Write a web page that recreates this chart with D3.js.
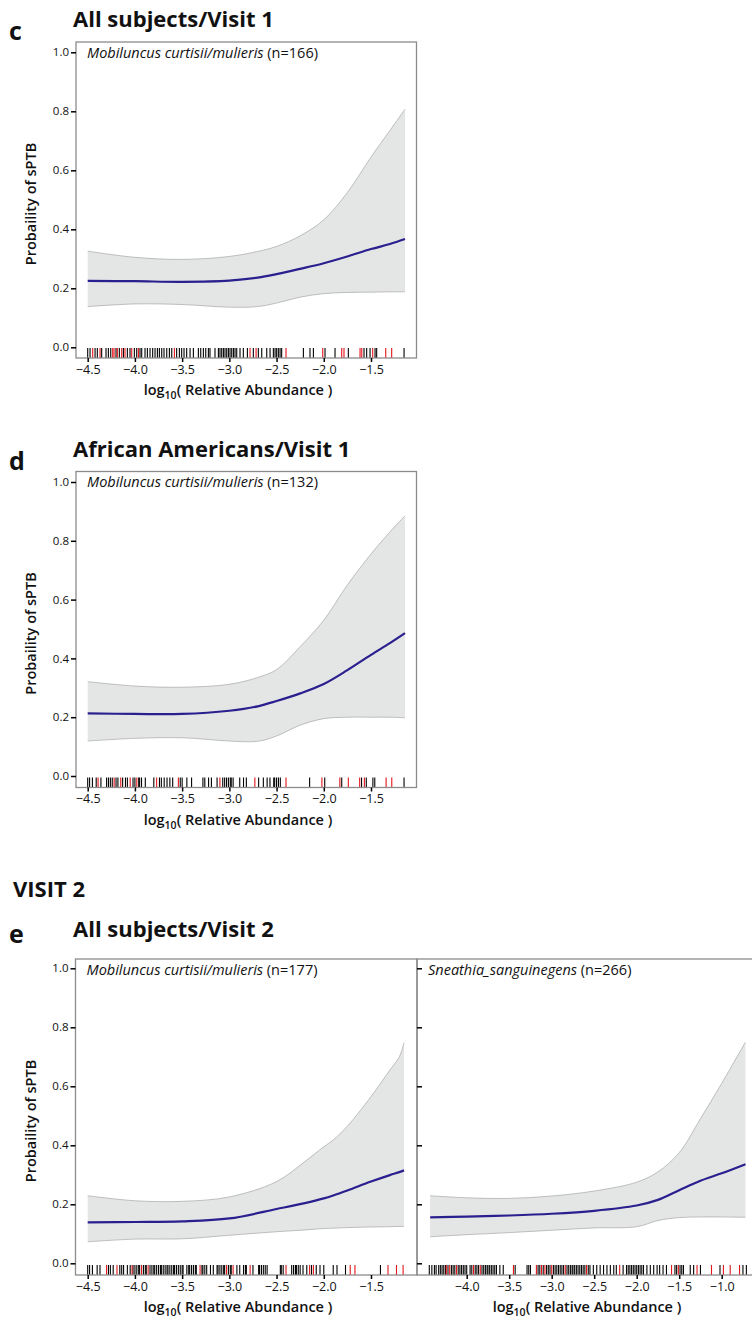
<!DOCTYPE html>
<html>
<head>
<meta charset="utf-8">
<script src="https://cdn.jsdelivr.net/npm/d3@7"></script>
<style>
  body { margin: 0; background: #fff; }
  svg { display: block; }
  text { font-family: "Open Sans", "Noto Sans", sans-serif; fill: #111; }
</style>
</head>
<body>
<svg id="chart" width="752" height="1319"></svg>
<script>
// ---- Shared tick labels ----
const yTicks = [0, 0.2, 0.4, 0.6, 0.8, 1.0];
const xTicksMob = [-4.5, -4.0, -3.5, -3.0, -2.5, -2.0, -1.5];
const xTicksSne = [-4.0, -3.5, -3.0, -2.5, -2.0, -1.5, -1.0];

// ---- Panel c: all subjects, visit 1, Mobiluncus ----
const cGrid  = [-4.5, -4.0, -3.5, -3.0, -2.7, -2.5, -2.25, -2.0, -1.75, -1.5, -1.3, -1.14];
const cFit   = [0.225, 0.224, 0.222, 0.226, 0.236, 0.248, 0.266, 0.285, 0.308, 0.333, 0.350, 0.367];
const cLower = [0.138, 0.147, 0.145, 0.136, 0.138, 0.150, 0.170, 0.182, 0.186, 0.187, 0.188, 0.188];
const cUpper = [0.326, 0.305, 0.298, 0.308, 0.325, 0.342, 0.378, 0.432, 0.525, 0.645, 0.735, 0.807];
const cRugControl = [-4.50, -4.475, -4.422, -4.398, -4.352, -4.306, -4.281, -4.256, -4.20, -4.165, -4.122,
  -4.08, -4.052, -4.006, -3.981, -3.946, -3.928, -3.893, -3.868, -3.84, -3.812, -3.787, -3.762, -3.741,
  -3.716, -3.692, -3.663, -3.635, -3.61, -3.558, -3.529, -3.505, -3.48, -3.452, -3.416, -3.381, -3.328,
  -3.303, -3.275, -3.25, -3.222, -3.205, -3.152, -3.116, -3.099, -3.081, -3.063, -3.046, -3.028, -3.01,
  -2.993, -2.975, -2.957, -2.94, -2.922, -2.887, -2.852, -2.809, -2.746, -2.693, -2.657, -2.604, -2.569,
  -2.534, -2.516, -2.499, -2.481, -2.463, -2.446, -2.216, -2.146, -2.11, -1.987, -1.881, -1.74, -1.574,
  -1.546, -1.51, -1.457, -1.44, -1.15];
const cRugCase = [-4.447, -4.369, -4.235, -4.221, -4.186, -4.14, -4.105, -4.034, -3.963, -3.582, -2.781,
  -2.717, -2.40, -2.011, -1.81, -1.786, -1.616, -1.598, -1.482, -1.344, -1.281];

// ---- Panel d: African Americans, visit 1, Mobiluncus ----
const dGrid  = [-4.5, -4.0, -3.5, -3.0, -2.7, -2.5, -2.25, -2.0, -1.75, -1.5, -1.3, -1.14];
const dFit   = [0.213, 0.211, 0.211, 0.222, 0.237, 0.255, 0.281, 0.313, 0.360, 0.412, 0.452, 0.486];
const dLower = [0.119, 0.128, 0.130, 0.119, 0.118, 0.136, 0.173, 0.195, 0.200, 0.200, 0.200, 0.198];
const dUpper = [0.321, 0.306, 0.302, 0.312, 0.335, 0.362, 0.440, 0.530, 0.650, 0.755, 0.830, 0.885];
const dRugControl = [-4.50, -4.48, -4.45, -4.41, -4.36, -4.30, -4.28, -4.26, -4.24, -4.20, -4.18, -4.13,
  -4.10, -4.08, -4.02, -4.00, -3.96, -3.95, -3.93, -3.89, -3.80, -3.74, -3.72, -3.69, -3.66, -3.63, -3.60,
  -3.52, -3.50, -3.45, -3.40, -3.28, -3.26, -3.22, -3.19, -3.13, -3.07, -3.05, -3.03, -3.01, -2.99, -2.98,
  -2.96, -2.89, -2.85, -2.82, -2.69, -2.64, -2.60, -2.57, -2.53, -2.52, -2.50, -2.48, -2.46, -2.15, -1.99,
  -1.81, -1.60, -1.55, -1.48, -1.46, -1.15];
const dRugCase = [-4.39, -4.22, -4.15, -4.05, -3.98, -3.77, -3.54, -3.10, -2.73, -2.40, -2.02, -1.83,
  -1.74, -1.62, -1.57, -1.34, -1.28];

// ---- Panel e (left): all subjects, visit 2, Mobiluncus ----
const eGrid  = [-4.5, -4.0, -3.5, -3.0, -2.5, -2.2, -2.0, -1.9, -1.75, -1.5, -1.3, -1.2, -1.15];
const eFit   = [0.139, 0.140, 0.142, 0.152, 0.184, 0.204, 0.220, 0.230, 0.247, 0.277, 0.299, 0.309, 0.315];
const eLower = [0.073, 0.082, 0.083, 0.095, 0.107, 0.113, 0.118, 0.119, 0.121, 0.123, 0.124, 0.125, 0.125];
const eUpper = [0.229, 0.212, 0.210, 0.225, 0.277, 0.345, 0.395, 0.418, 0.465, 0.565, 0.655, 0.700, 0.748];
const eRugControl = [-4.50, -4.48, -4.45, -4.40, -4.37, -4.28, -4.26, -4.23, -4.16, -4.14, -4.12, -4.08,
  -4.05, -4.02, -4.00, -3.98, -3.96, -3.95, -3.91, -3.89, -3.88, -3.84, -3.82, -3.80, -3.79, -3.77, -3.75,
  -3.73, -3.72, -3.70, -3.68, -3.66, -3.65, -3.63, -3.61, -3.59, -3.58, -3.56, -3.54, -3.52, -3.50, -3.49,
  -3.45, -3.43, -3.42, -3.40, -3.38, -3.36, -3.35, -3.29, -3.28, -3.26, -3.24, -3.20, -3.17, -3.13, -3.12,
  -3.10, -3.08, -3.06, -3.05, -3.01, -2.99, -2.98, -2.92, -2.89, -2.85, -2.83, -2.82, -2.75, -2.69, -2.68,
  -2.66, -2.64, -2.62, -2.60, -2.46, -2.45, -2.43, -2.34, -2.32, -2.30, -2.29, -2.27, -2.25, -2.22, -2.18,
  -2.13, -2.08, -2.04, -2.00, -1.90, -1.86, -1.77, -1.40];
const eRugCase = [-4.30, -4.19, -4.03, -3.93, -3.86, -3.31, -3.03, -2.96, -2.78, -2.40, -2.15, -2.11,
  -1.72, -1.67, -1.32, -1.23, -1.16];

// ---- Panel e (right): all subjects, visit 2, Sneathia ----
const sGrid  = [-4.43, -4.0, -3.5, -3.0, -2.5, -2.0, -1.75, -1.5, -1.25, -1.0, -0.72];
const sFit   = [0.156, 0.158, 0.162, 0.168, 0.178, 0.196, 0.215, 0.248, 0.280, 0.305, 0.336];
const sLower = [0.090, 0.097, 0.104, 0.112, 0.120, 0.124, 0.145, 0.155, 0.157, 0.157, 0.156];
const sUpper = [0.229, 0.222, 0.220, 0.228, 0.245, 0.275, 0.310, 0.375, 0.490, 0.610, 0.750];
const sRugControl = [-4.44, -4.41, -4.38, -4.36, -4.33, -4.31, -4.29, -4.27, -4.25, -4.22, -4.18, -4.16,
  -4.14, -4.10, -4.08, -4.06, -4.04, -4.02, -4.00, -3.96, -3.94, -3.90, -3.88, -3.86, -3.82, -3.80, -3.78,
  -3.76, -3.75, -3.73, -3.71, -3.69, -3.67, -3.65, -3.61, -3.57, -3.43, -3.29, -3.27, -3.25, -3.16, -3.14,
  -3.10, -3.06, -3.04, -3.02, -2.98, -2.96, -2.94, -2.92, -2.90, -2.88, -2.86, -2.82, -2.80, -2.78, -2.76,
  -2.75, -2.73, -2.71, -2.69, -2.67, -2.65, -2.63, -2.61, -2.57, -2.55, -2.51, -2.47, -2.43, -2.39, -2.35,
  -2.31, -2.27, -2.24, -2.16, -2.12, -2.10, -2.08, -2.06, -2.04, -2.02, -2.00, -1.98, -1.96, -1.94, -1.92,
  -1.88, -1.84, -1.80, -1.76, -1.73, -1.69, -1.65, -1.55, -1.53, -1.49, -1.47, -1.45, -1.37, -1.33, -1.25,
  -1.02, -0.75, -0.71];
const sRugCase = [-4.24, -4.20, -4.12, -3.92, -3.84, -3.45, -3.18, -3.12, -3.08, -3.00, -2.84, -2.59,
  -2.20, -1.59, -1.51, -1.29, -1.12, -0.98, -0.90, -0.79];

const svg = d3.select("#chart");
const BOX = "#8c8c8c", BAND = "#e4e5e5", BAND_EDGE = "#a6a6a6", FIT = "#2a1f8e", CASE = "#e5141b";

function heading(txt, x, y, size) {
  svg.append("text").attr("x", x).attr("y", y)
    .attr("font-size", size).attr("font-weight", 700).text(txt);
}

function panel(p) {
  const g = svg.append("g");
  const x = d3.scaleLinear().domain(p.xDomain).range(p.xRange);
  const y = d3.scaleLinear().domain([0, 1]).range(p.yRange);
  const rows = p.grid.map((v, i) => ({ v, fit: p.fit[i], lo: p.lower[i], hi: p.upper[i] }));
  const curve = d3.curveCatmullRom.alpha(0.5);

  // confidence band
  g.append("path").datum(rows)
    .attr("d", d3.area().x(d => x(d.v)).y0(d => y(d.lo)).y1(d => y(d.hi)).curve(curve))
    .attr("fill", BAND);
  ["lo", "hi"].forEach(k => {
    g.append("path").datum(rows)
      .attr("d", d3.line().x(d => x(d.v)).y(d => y(d[k])).curve(curve))
      .attr("fill", "none").attr("stroke", BAND_EDGE).attr("stroke-width", 0.7);
  });
  // fitted probability
  g.append("path").datum(rows)
    .attr("d", d3.line().x(d => x(d.v)).y(d => y(d.fit)).curve(curve))
    .attr("fill", "none").attr("stroke", FIT).attr("stroke-width", 2.2);

  // rug of observations
  const rugTop = p.bottom - 10;
  const rug = p.rugControl.map(v => ({ v, c: "#000" })).concat(p.rugCase.map(v => ({ v, c: CASE })));
  g.selectAll(null).data(rug).join("line")
    .attr("x1", d => x(d.v)).attr("x2", d => x(d.v))
    .attr("y1", rugTop).attr("y2", p.bottom)
    .attr("stroke", d => d.c).attr("stroke-width", 1.1);

  // frame
  g.append("rect").attr("x", p.left).attr("y", p.top)
    .attr("width", p.right - p.left).attr("height", p.bottom - p.top)
    .attr("fill", "none").attr("stroke", BOX).attr("stroke-width", 1.3);

  // y axis
  const ya = p.yLabels
    ? d3.axisLeft(y).tickValues(yTicks).tickSize(5).tickPadding(2).tickFormat(d3.format(".1f"))
    : d3.axisRight(y).tickValues(yTicks).tickSize(5).tickFormat("");
  const yg = g.append("g").attr("transform", `translate(${p.left},0)`).call(ya);
  yg.select(".domain").remove();
  yg.selectAll(".tick line").attr("stroke", "#000").attr("stroke-width", 1.5);
  yg.selectAll(".tick text").attr("font-size", 11.5).attr("font-family", "Open Sans").attr("fill", "#111");

  // x axis
  const xg = g.append("g").attr("transform", `translate(0,${p.bottom})`)
    .call(d3.axisBottom(x).tickValues(p.xTicks).tickSize(4).tickPadding(3).tickFormat(d3.format(".1f")));
  xg.select(".domain").remove();
  xg.selectAll(".tick line").attr("stroke", "#000").attr("stroke-width", 1.5);
  xg.selectAll(".tick text").attr("font-size", 12.5).attr("font-family", "Open Sans").attr("fill", "#111");

  // x title
  const xt = g.append("text").attr("x", p.xLabelX).attr("y", p.bottom + 37)
    .attr("text-anchor", "middle").attr("font-size", 14.5).attr("font-weight", 600);
  xt.append("tspan").text("log");
  xt.append("tspan").attr("font-size", 10.5).attr("dy", 4).text("10");
  xt.append("tspan").attr("dy", -4).text("( Relative Abundance )");

  // y title
  if (p.yLabels) {
    g.append("text")
      .attr("transform", `translate(36,${(p.top + p.bottom) / 2 + 4}) rotate(-90)`)
      .attr("text-anchor", "middle").attr("font-size", 14.5).attr("font-weight", 600)
      .text("Probaility of sPTB");
  }

  // taxon caption
  const cap = g.append("text").attr("x", p.left + 11).attr("y", p.top + 15.5).attr("font-size", 14.5);
  cap.append("tspan").attr("font-style", "italic").text(p.taxon);
  cap.append("tspan").text(` (n=${p.n})`);
}

// headings
heading("c", 9, 40, 25);
heading("All subjects/Visit 1", 73, 27, 22);
heading("d", 9, 470, 25);
heading("African Americans/Visit 1", 73, 457, 22);
heading("VISIT 2", 13, 897, 22);
heading("e", 9, 943, 25);
heading("All subjects/Visit 2", 73, 937, 22);

panel({ left: 76, right: 416.5, top: 42, bottom: 358, yRange: [347.3, 52.3],
  xDomain: [-4.5, -1.5], xRange: [87.7, 371], xTicks: xTicksMob, xLabelX: 238, yLabels: true,
  grid: cGrid, fit: cFit, lower: cLower, upper: cUpper, rugControl: cRugControl, rugCase: cRugCase,
  taxon: "Mobiluncus curtisii/mulieris", n: 166 });

panel({ left: 76, right: 416.5, top: 471.5, bottom: 787.5, yRange: [776, 482],
  xDomain: [-4.5, -1.5], xRange: [87.7, 371], xTicks: xTicksMob, xLabelX: 238, yLabels: true,
  grid: dGrid, fit: dFit, lower: dLower, upper: dUpper, rugControl: dRugControl, rugCase: dRugCase,
  taxon: "Mobiluncus curtisii/mulieris", n: 132 });

panel({ left: 75.5, right: 417, top: 959, bottom: 1275, yRange: [1263.3, 968.3],
  xDomain: [-4.5, -1.5], xRange: [87.7, 371], xTicks: xTicksMob, xLabelX: 238, yLabels: true,
  grid: eGrid, fit: eFit, lower: eLower, upper: eUpper, rugControl: eRugControl, rugCase: eRugCase,
  taxon: "Mobiluncus curtisii/mulieris", n: 177 });

panel({ left: 417, right: 762, top: 959, bottom: 1275, yRange: [1263.3, 968.3],
  xDomain: [-4.0, -1.0], xRange: [466.7, 721.7], xTicks: xTicksSne, xLabelX: 587, yLabels: false,
  grid: sGrid, fit: sFit, lower: sLower, upper: sUpper, rugControl: sRugControl, rugCase: sRugCase,
  taxon: "Sneathia_sanguinegens", n: 266 });
</script>
</body>
</html>
